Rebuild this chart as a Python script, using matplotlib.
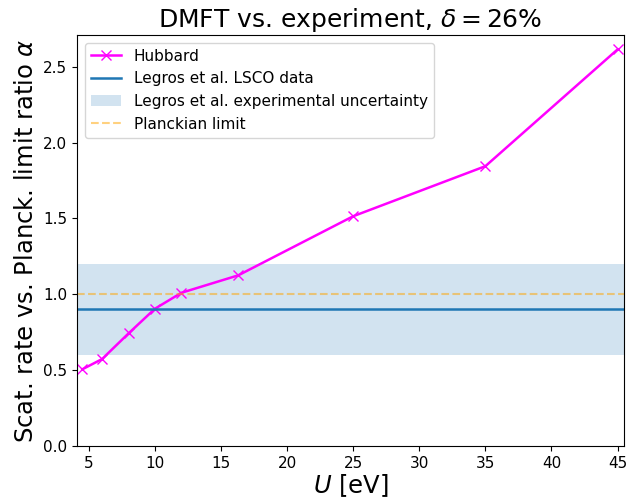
import numpy as np
import matplotlib
matplotlib.use("Agg")
import matplotlib.pyplot as plt

# DMFT scattering-rate ratio vs interaction strength U
U_vals = [4.5, 6.0, 8.0, 10.0, 12.0, 16.3, 25.0, 35.0, 45.0]
alpha_vals = [0.505, 0.573, 0.742, 0.905, 1.01, 1.125, 1.515, 1.845, 2.615]

legros_alpha = 0.9
legros_low, legros_high = 0.6, 1.2
planck_limit = 1.0

fig, ax = plt.subplots(figsize=(6.26, 5.01), dpi=100)
ax.plot(U_vals, alpha_vals, color="magenta", marker="x", ms=7, lw=1.8, label="Hubbard")
ax.axhline(legros_alpha, color="C0", lw=1.8, label="Legros et al. LSCO data")
ax.axhspan(legros_low, legros_high, color="C0", alpha=0.2, lw=0,
           label="Legros et al. experimental uncertainty")
ax.axhline(planck_limit, color="orange", alpha=0.5, ls="--", lw=1.5, label="Planckian limit")

ax.set_xlim(4.1, 45.5)
ax.set_ylim(0, 2.71)
ax.set_xticks(np.arange(5, 46, 5))
ax.tick_params(labelsize=11)
ax.set_xlabel("$U$ [eV]", fontsize=17.5, labelpad=1)
ax.set_ylabel(r"Scat. rate vs. Planck. limit ratio $\alpha$", fontsize=17.5)
ax.set_title(r"DMFT vs. experiment, $\delta = 26\%$", fontsize=18)
ax.legend(loc="upper left", fontsize=11)

fig.subplots_adjust(left=0.123, right=0.997, top=0.930, bottom=0.110)
fig.savefig("out.png")
